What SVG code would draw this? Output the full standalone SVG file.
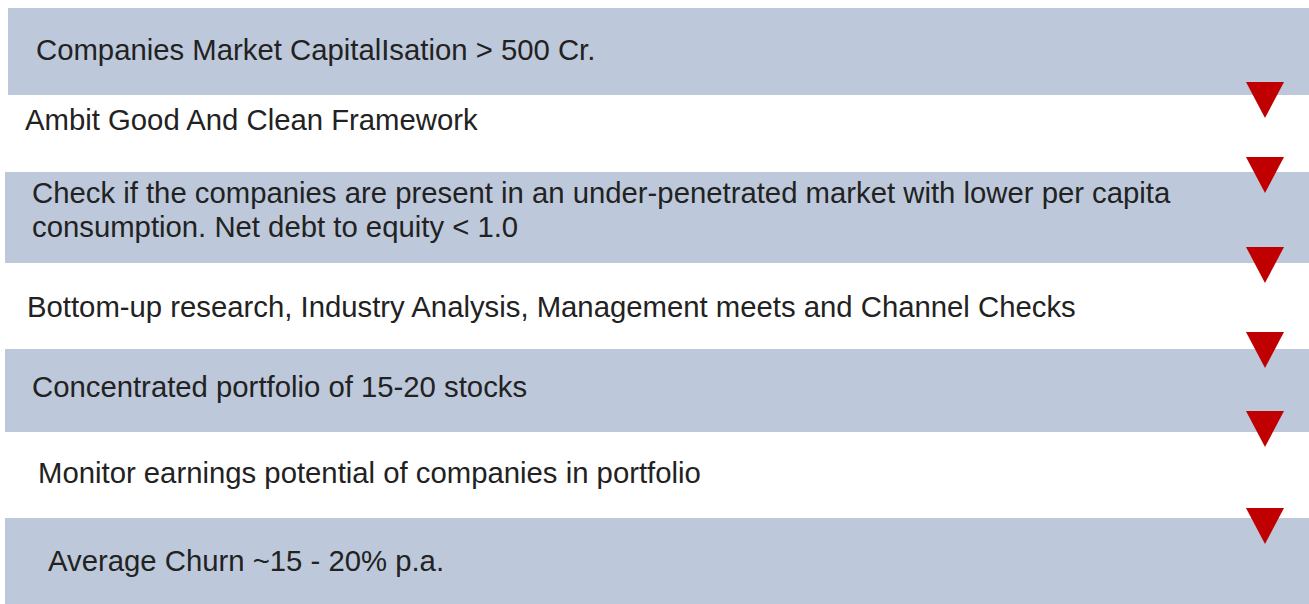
<svg xmlns="http://www.w3.org/2000/svg" width="1309" height="604" viewBox="0 0 1309 604">
  <style>
    .band { fill: #BDC9DB; }
    .label { font-family: "Liberation Sans", Arial, sans-serif; font-size: 29.3px; fill: #222222; }
    .arrow { fill: #C00000; }
  </style>
  <defs>
    <polygon id="down" points="-19,0 19,0 0,36"/>
  </defs>
  <rect width="1309" height="604" fill="#FFFFFF"/>

  <g id="step-market-cap">
    <rect class="band" x="8" y="8" width="1301" height="87"/>
    <text class="label" x="36" y="60">Companies Market CapitalIsation &gt; 500 Cr.</text>
  </g>

  <g id="step-framework">
    <text class="label" x="25" y="130">Ambit Good And Clean Framework</text>
  </g>

  <g id="step-market-check">
    <rect class="band" x="5" y="172" width="1304" height="91"/>
    <text class="label" x="32" y="203">Check if the companies are present in an under-penetrated market with lower per capita</text>
    <text class="label" x="32" y="237">consumption. Net debt to equity &lt; 1.0</text>
  </g>

  <g id="step-research">
    <text class="label" x="27" y="317">Bottom-up research, Industry Analysis, Management meets and Channel Checks</text>
  </g>

  <g id="step-portfolio">
    <rect class="band" x="5" y="349" width="1304" height="83"/>
    <text class="label" x="32" y="397">Concentrated portfolio of 15-20 stocks</text>
  </g>

  <g id="step-monitor">
    <text class="label" x="38" y="483">Monitor earnings potential of companies in portfolio</text>
  </g>

  <g id="step-churn">
    <rect class="band" x="5" y="518" width="1304" height="86"/>
    <text class="label" x="48" y="571">Average Churn ~15 - 20% p.a.</text>
  </g>

  <g id="connectors">
    <use href="#down" class="arrow" x="1265" y="82"/>
    <use href="#down" class="arrow" x="1265" y="157"/>
    <use href="#down" class="arrow" x="1265" y="247"/>
    <use href="#down" class="arrow" x="1265" y="332"/>
    <use href="#down" class="arrow" x="1265" y="411"/>
    <use href="#down" class="arrow" x="1265" y="508"/>
  </g>
</svg>
